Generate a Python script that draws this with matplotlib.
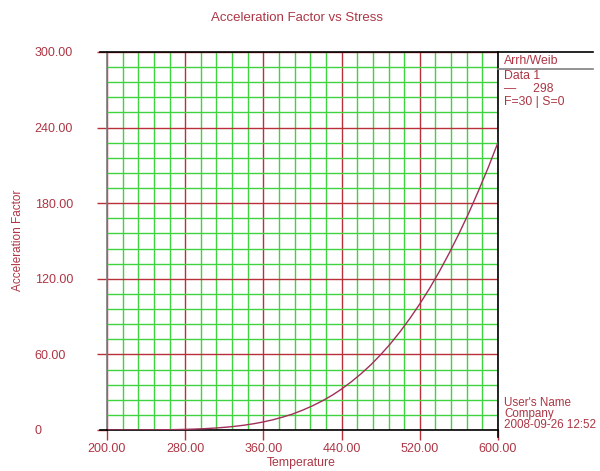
import numpy as np
import matplotlib.pyplot as plt
from matplotlib.lines import Line2D
from matplotlib.ticker import FixedLocator, MultipleLocator

plt.rcParams['font.family'] = ['Liberation Sans', 'DejaVu Sans']

# Acceleration factor vs temperature, use level 298
temperature = [200, 210, 220, 230, 240, 250, 260, 270, 280, 290, 300,
               310, 320, 330, 340, 350, 360, 370, 380, 390, 400,
               410, 420, 430, 440, 450, 460, 470, 480, 490, 500,
               510, 520, 530, 540, 550, 560, 570, 580, 590, 600]
accel_factor = [0.005, 0.011, 0.022, 0.041, 0.074, 0.13, 0.21, 0.33, 0.50, 0.74, 1.07,
                1.52, 2.10, 2.85, 3.79, 4.97, 6.41, 8.16, 10.3, 12.7, 15.7,
                19.1, 23.0, 27.4, 32.5, 38.3, 44.7, 51.8, 59.8, 68.5, 78.2,
                88.7, 100.1, 112.4, 125.8, 140.2, 155.7, 172.1, 189.8, 208.3, 228.2]

x_ticks = [200, 280, 360, 440, 520, 600]
x_labels = ['200.00', '280.00', '360.00', '440.00', '520.00', '600.00']
y_ticks = [0, 60, 120, 180, 240, 300]
y_labels = ['0', '60.00', '120.00', '180.00', '240.00', '300.00']

legend_lines = ['Arrh/Weib', 'Data 1', '\u2014     298', 'F=30 | S=0']
footer_lines = ["User's Name", 'Company', '2008-09-26 12:52']

txt = '#ad3645'
major = '#b8313a'
minor = '#3fd43f'
W, H = 600, 471

fig = plt.figure(figsize=(6, 4.71), dpi=100)
ax = fig.add_axes([107 / W, 1 - 430 / H, (498 - 107) / W, (430 - 52) / H])

ax.set_xlim(200, 600)
ax.set_ylim(0, 300)
# 5 minor divisions per major step on both axes
ax.xaxis.set_minor_locator(FixedLocator(np.arange(200, 601, 16)))
ax.yaxis.set_minor_locator(MultipleLocator(12))
ax.set_xticks(x_ticks)
ax.set_xticklabels(x_labels)
ax.set_yticks(y_ticks)
ax.set_yticklabels(y_labels)

ax.grid(which='minor', color=minor, lw=1.0, zorder=0)
ax.grid(which='major', color=major, lw=1.0, zorder=1)
ax.set_axisbelow(True)

ax.tick_params(which='major', length=7, width=1, color=major, labelcolor=txt,
               labelsize=9)
ax.tick_params(which='minor', length=0)
ax.tick_params(axis='x', pad=2)
ax.tick_params(axis='y', pad=45)
for lbl in ax.get_yticklabels():
    lbl.set_horizontalalignment('left')

ax.plot(temperature, accel_factor, color='#a0305a', lw=1.0, zorder=3)

ax.spines['left'].set_color('#7a7a7a')
ax.spines['bottom'].set_color('black')
ax.spines['right'].set_color('black')
ax.spines['top'].set_visible(False)
for s in ax.spines.values():
    s.set_linewidth(1.2)

fig.text(301 / W, 1 - 463 / H, 'Temperature', color=txt, fontsize=8.8,
         ha='center', va='center')
fig.text(18 / W, 1 - 240 / H, 'Acceleration Factor', rotation=90, color=txt,
         fontsize=8.5, ha='center', va='center')
fig.text(297 / W, 1 - 18 / H, 'Acceleration Factor vs Stress', color=txt,
         fontsize=9.5, ha='center', va='center')

# frame lines around the legend panel
fig.add_artist(Line2D([100 / W, 593 / W], [1 - 52 / H, 1 - 52 / H],
                      color='black', lw=1.2))
fig.add_artist(Line2D([498 / W, 593 / W], [1 - 69 / H, 1 - 69 / H],
                      color='#808080', lw=1.2))
fig.add_artist(Line2D([100 / W, 107 / W], [1 - 430 / H, 1 - 430 / H],
                      color='black', lw=1.2))
fig.add_artist(Line2D([498 / W, 498 / W], [1 - 430 / H, 1 - 437 / H],
                      color='black', lw=1.2))

for i, s in enumerate(legend_lines):
    y = [61, 76, 89, 102][i]
    fig.text(504 / W, 1 - y / H, s, color=txt, fontsize=8.8, va='center')
for i, s in enumerate(footer_lines):
    y = 403 + i * 10.8
    fig.text(504 / W, 1 - y / H, s, color=txt, fontsize=8.4, va='center')

fig.savefig('out.png', dpi=100, facecolor='white')
